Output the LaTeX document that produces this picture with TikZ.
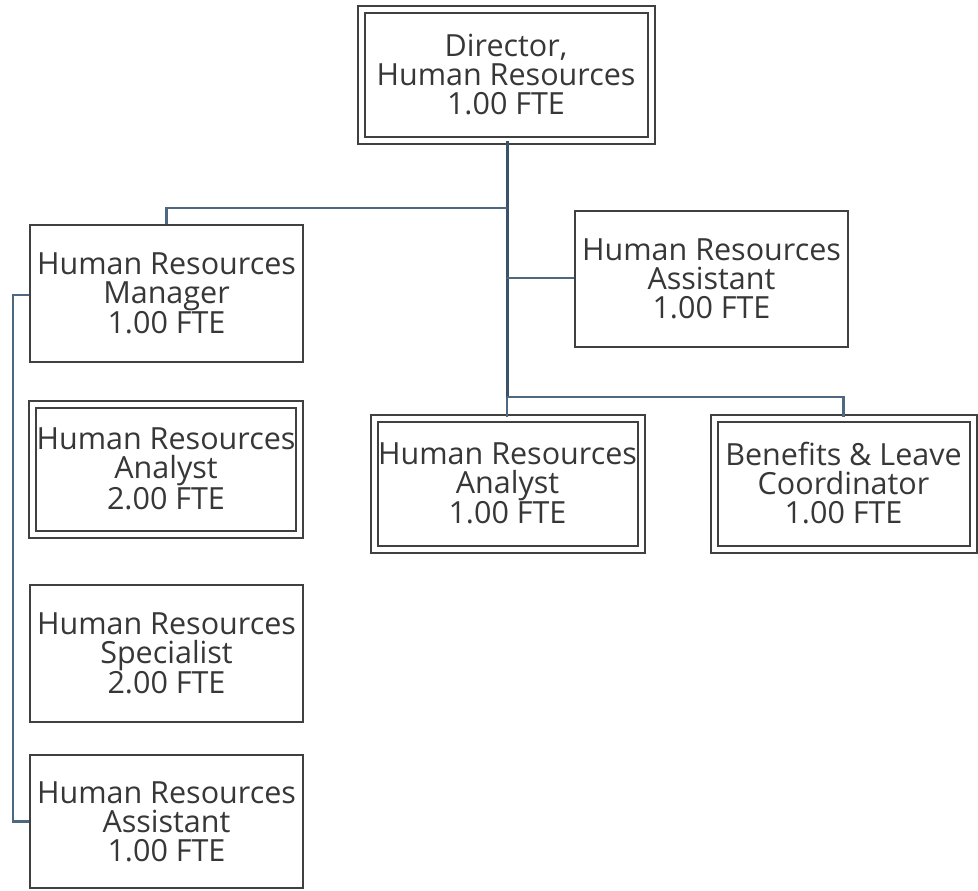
\documentclass[tikz,border=0pt]{standalone}
\usepackage{fontspec}
\setmainfont{Open Sans}
\definecolor{conncol}{RGB}{78,104,130}
\definecolor{trunkcol}{RGB}{58,82,106}
\definecolor{boxcol}{RGB}{64,64,64}
\definecolor{txtcol}{RGB}{55,55,55}
\begin{document}
\begin{tikzpicture}[x=1pt,y=-1pt,
  box/.style={draw=boxcol, line width=2pt, fill=white, rectangle, inner sep=0pt,
    align=center, text=txtcol, font=\fontsize{30.5}{29}\selectfont},
  dbox/.style={box, double=white, double distance=5pt},
  conn/.style={draw=conncol, line width=2.4pt},
  trunk/.style={draw=trunkcol, line width=3pt}]
\useasboundingbox[fill=white] (0,0) rectangle (978,891);
\coordinate (jm) at (507,208);
\coordinate (ja) at (507,278);
\coordinate (bus) at (507,397);
\coordinate (lv) at (13,295);
% nodes
\node[dbox, minimum width=290pt, minimum height=130pt] (dir) at (506,75) {Director,\\Human Resources\\1.00 FTE};
\node[box, minimum width=273pt, minimum height=137pt] (mgr) at (166.5,293.5) {Human Resources\\Manager\\1.00 FTE};
\node[dbox, minimum width=267pt, minimum height=130pt] (ana2) at (166,469) {Human Resources\\Analyst\\2.00 FTE};
\node[box, minimum width=273pt, minimum height=137pt] (spec) at (166.5,653.5) {Human Resources\\Specialist\\2.00 FTE};
\node[box, minimum width=273pt, minimum height=133pt] (asst2) at (166.5,821.5) {Human Resources\\Assistant\\1.00 FTE};
\node[box, minimum width=273pt, minimum height=136pt] (asst1) at (711.5,279) {Human Resources\\Assistant\\1.00 FTE};
\node[dbox, minimum width=267pt, minimum height=131pt] (ana1) at (507.5,483.5) {Human Resources\\Analyst\\1.00 FTE};
\node[dbox, minimum width=259pt, minimum height=131pt] (ben) at (843.5,483.5) {Benefits \& Leave\\Coordinator\\1.00 FTE};
% connectors
\draw[trunk] (bus |- dir.south) -- (bus);
\draw[conn] (bus) -| (ben.north);
\draw[conn] (bus) -- (bus |- ana1.north);
\draw[conn] (jm) -| (mgr.north);
\draw[conn] (ja) -- (ja -| asst1.west);
\draw[conn] (lv -| mgr.west) -- (lv) -- (lv |- asst2.west) -- (asst2.west);
\end{tikzpicture}
\end{document}
